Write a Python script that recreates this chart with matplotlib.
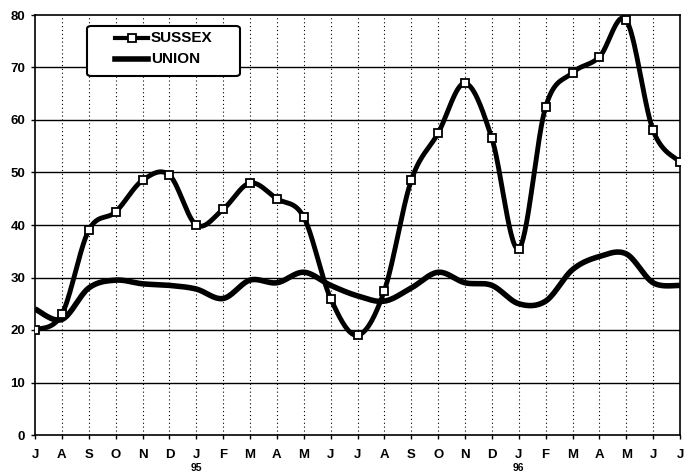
import numpy as np
import matplotlib
matplotlib.use("Agg")
import matplotlib.pyplot as plt
from matplotlib.lines import Line2D
from matplotlib.patches import FancyBboxPatch

months = ["J", "A", "S", "O", "N", "D", "J", "F", "M", "A", "M", "J",
          "J", "A", "S", "O", "N", "D", "J", "F", "M", "A", "M", "J", "J"]
year_labels = {6: "95", 18: "96"}
sussex = [20, 23, 39, 42.5, 48.5, 49.5, 40, 43, 48, 45, 41.5, 26,
          19, 27.5, 48.5, 57.5, 67, 56.5, 35.5, 62.5, 69, 72, 79, 58, 52]
union = [24, 22, 28, 29.5, 28.8, 28.5, 27.8, 26, 29.5, 29, 31, 28.5,
         26.5, 25.5, 28, 31, 29, 28.5, 25, 25.5, 31.5, 34, 34.5, 29, 28.5]
yticks = [0, 10, 20, 30, 40, 50, 60, 70, 80]
series_names = ["SUSSEX", "UNION"]

plt.rcParams['font.family'] = ['Liberation Sans', 'DejaVu Sans']

W, H = 691, 473


def smooth(x, y, n=30):
    x = np.asarray(x, float)
    y = np.asarray(y, float)
    xs, ys = [], []
    m = len(x)
    for i in range(m - 1):
        i0 = max(i - 1, 0)
        i3 = min(i + 2, m - 1)
        p0 = np.array([x[i], y[i]])
        p3 = np.array([x[i + 1], y[i + 1]])
        c1 = p0 + (p3 - np.array([x[i0], y[i0]])) / 6.0
        c2 = p3 - (np.array([x[i3], y[i3]]) - p0) / 6.0
        t = np.linspace(0, 1, n, endpoint=(i == m - 2))[:, None]
        pts = ((1 - t) ** 3) * p0 + 3 * ((1 - t) ** 2) * t * c1 + 3 * (1 - t) * t ** 2 * c2 + t ** 3 * p3
        xs.extend(pts[:, 0])
        ys.extend(pts[:, 1])
    return np.array(xs), np.array(ys)


x = np.arange(len(months))
fig = plt.figure(figsize=(W / 100, H / 100), dpi=100)
ax = fig.add_axes([35 / W, 1 - 435 / H, 645 / W, 420 / H])

for v in yticks[1:-1]:
    ax.axhline(v, color='black', lw=1.0, zorder=1)
for xi in x[1:-1]:
    ax.axvline(xi, color='black', lw=0.8, ls=(0, (1, 2.5)), zorder=1)

sx, sy = smooth(x, sussex)
ux, uy = smooth(x, union)
ax.plot(ux, uy, color='black', lw=4.0, solid_capstyle='butt', zorder=3)
ax.plot(sx, sy, color='black', lw=3.5, zorder=4)
ax.plot(x, sussex, ls='none', marker='s', ms=5.5, mfc='white', mec='black', mew=1.3, zorder=5)

ax.set_xlim(0, len(months) - 1)
ax.set_ylim(0, 80)
ax.set_yticks(yticks)
ax.set_yticklabels([str(v) for v in yticks], fontsize=9.5, fontweight='bold')
ax.set_xticks(x)
ax.set_xticklabels(months, fontsize=9.5, fontweight='bold')
ax.tick_params(axis='x', direction='out', length=3, width=1, pad=7)
ax.tick_params(axis='y', direction='out', length=3, width=1, pad=4)
for s in ax.spines.values():
    s.set_linewidth(1.2)

for xi, lab in year_labels.items():
    ax.annotate(lab, xy=(xi, 0), xycoords=('data', 'axes fraction'),
                xytext=(0, -23.5), textcoords='offset points', ha='center', va='center',
                fontsize=7.5, fontweight='bold')

# legend box (drawn in figure pixel fractions)
def fx(px):
    return px / W


def fy(py):
    return 1 - py / H


box = FancyBboxPatch((fx(87), fy(76)), fx(240) - fx(87), fy(26) - fy(76),
                     boxstyle="round,pad=0,rounding_size=0.006",
                     transform=fig.transFigure, facecolor='white', edgecolor='black',
                     lw=1.5, zorder=20)
fig.add_artist(box)
rows = [38, 59]
fig.add_artist(Line2D([fx(115), fx(148)], [fy(rows[0])] * 2, transform=fig.transFigure,
                      color='black', lw=3, zorder=21))
fig.add_artist(Line2D([fx(131.5)], [fy(rows[0])], transform=fig.transFigure, ls='none',
                      marker='s', ms=5.5, mfc='white', mec='black', mew=1.3, zorder=22))
fig.add_artist(Line2D([fx(115), fx(148)], [fy(rows[1])] * 2, transform=fig.transFigure,
                      color='black', lw=4, zorder=21))
for r, name in zip(rows, series_names):
    fig.text(fx(151), fy(r), name, ha='left', va='center', fontsize=11,
             fontweight='bold', zorder=23)

fig.savefig('out.png', dpi=100)
